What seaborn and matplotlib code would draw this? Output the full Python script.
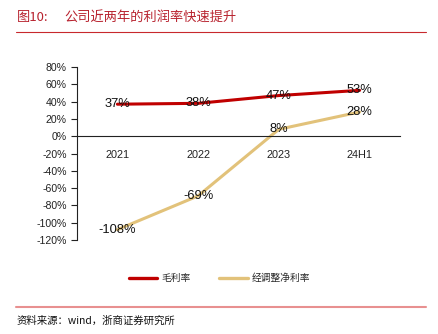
import matplotlib
matplotlib.use("Agg")
import matplotlib.pyplot as plt
import seaborn as sns
import pandas as pd
from matplotlib.lines import Line2D
from matplotlib.ticker import FixedLocator, PercentFormatter

categories = ["2021", "2022", "2023", "24H1"]
gross_margin = [37, 38, 47, 53]
adj_net_margin = [-108, -69, 8, 28]
series_names = ["毛利率", "经调整净利率"]
y_ticks = list(range(-120, 81, 20))

sns.set_theme(style="white")
plt.rcParams["font.family"] = ["Liberation Sans", "Noto Sans CJK SC", "DejaVu Sans"]
plt.rcParams["axes.unicode_minus"] = False

df = pd.DataFrame({
    "period": categories * 2,
    "pos": list(range(len(categories))) * 2,
    "value": gross_margin + adj_net_margin,
    "series": [series_names[0]] * len(categories) + [series_names[1]] * len(categories),
})

fig = plt.figure(figsize=(4.39, 3.34), dpi=100)
ax = fig.add_axes([0.1754, 0.2814, 0.9111 - 0.1754, 0.7994 - 0.2814])

palette = {series_names[0]: "#C00000", series_names[1]: "#E2C27A"}
sns.lineplot(data=df, x="pos", y="value", hue="series", palette=palette,
             linewidth=2.2, ax=ax, legend=False, sort=False)

# value labels centred on each point
for vals in (gross_margin, adj_net_margin):
    for i, v in enumerate(vals):
        ax.text(i, v, f"{v}%", ha="center", va="center", fontsize=9.3,
                color="#111111")

ax.set_xlim(-0.5, len(categories) - 0.5)
ax.set_ylim(-120, 80)
ax.set_yticks(y_ticks)
ax.yaxis.set_major_formatter(PercentFormatter(decimals=0))
ax.set_xticks(range(len(categories)))
ax.set_xticklabels(categories)
ax.xaxis.set_minor_locator(FixedLocator([i - 0.5 for i in range(len(categories) + 1)]))
ax.tick_params(axis="x", which="major", length=0, labelsize=7.8, pad=10, colors="#222222")
ax.tick_params(axis="x", which="minor", length=4, width=0.8, direction="out", color="#222222")
ax.tick_params(axis="y", length=4, width=0.8, direction="out", labelsize=7.6,
               colors="#222222", left=True)
ax.set_xlabel("")
ax.set_ylabel("")

for s in ("top", "right"):
    ax.spines[s].set_visible(False)
ax.spines["left"].set_color("#222222")
ax.spines["left"].set_linewidth(0.8)
ax.spines["bottom"].set_position(("data", 0))
ax.spines["bottom"].set_color("#222222")
ax.spines["bottom"].set_linewidth(0.8)

# legend
handles = [Line2D([], [], color=palette[n], linewidth=2.4) for n in series_names]
fig.legend(handles, series_names, loc="center", bbox_to_anchor=(0.5, 1 - 278 / 334),
           ncol=2, frameon=False, handlelength=2.9, columnspacing=3.0,
           handletextpad=0.4, prop={"family": ["Noto Sans CJK SC"], "size": 7})

# title and source
fig.text(17 / 439, 1 - 17 / 334, "图10:", fontsize=9.5, color="#B8232F",
         va="center", ha="left", family=["Noto Sans CJK SC"])
fig.text(64 / 439, 1 - 17 / 334, "公司近两年的利润率快速提升", fontsize=9.5, color="#B8232F",
         va="center", ha="left", family=["Noto Sans CJK SC"])
fig.add_artist(Line2D([16 / 439, 426 / 439], [1 - 32 / 334, 1 - 32 / 334],
                      color="#C8282D", linewidth=0.8))
fig.add_artist(Line2D([16 / 439, 426 / 439], [1 - 307 / 334, 1 - 307 / 334],
                      color="#E89090", linewidth=1.5))
fig.text(17 / 439, 1 - 321 / 334, "资料来源：wind，浙商证券研究所", fontsize=7.5,
         color="#111111", va="center", ha="left", family=["Noto Sans CJK SC"])

fig.savefig("out.png", dpi=100, facecolor="white")
